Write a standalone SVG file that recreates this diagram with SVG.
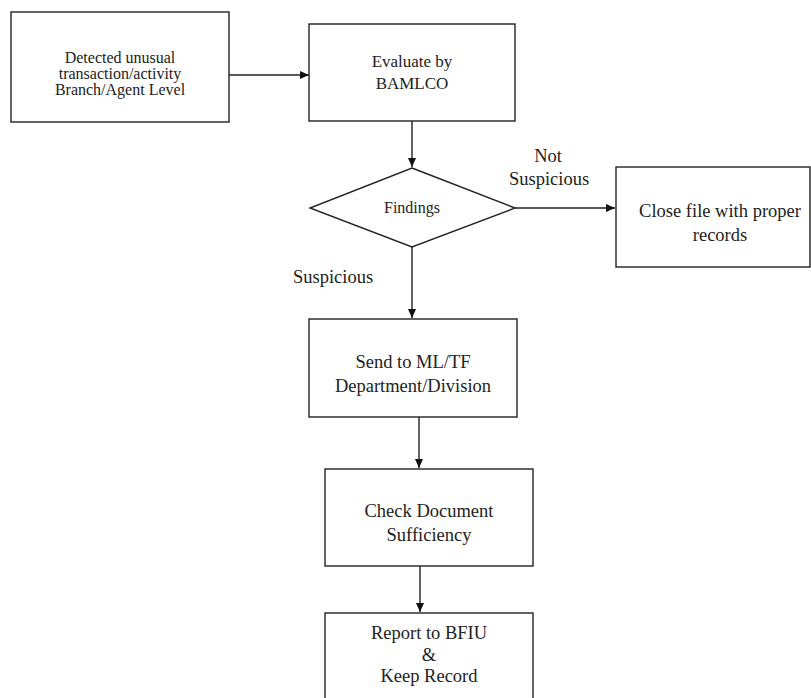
<svg xmlns="http://www.w3.org/2000/svg" width="811" height="698" viewBox="0 0 811 698">
<defs>
<marker id="ah" markerWidth="10" markerHeight="10" refX="9" refY="5" orient="auto" markerUnits="userSpaceOnUse">
<path d="M0,1 L9,5 L0,9 Z" fill="#111"/>
</marker>
<style>
.box{fill:#fff;stroke:#222;stroke-width:1.4}
.t{font-family:"Liberation Serif","Times New Roman",serif;fill:#222;text-anchor:middle}
.s16{font-size:16px}
.s17{font-size:17px}
.s18{font-size:18.5px}
.c{stroke:#222;stroke-width:1.4;fill:none;marker-end:url(#ah)}
</style>
</defs>
<rect width="811" height="698" fill="#fff"/>
<g id="connectors">
<line class="c" x1="229" y1="75" x2="309" y2="75"/>
<line class="c" x1="412" y1="121" x2="412" y2="167"/>
<line class="c" x1="515" y1="208" x2="615" y2="208"/>
<line class="c" x1="412" y1="247" x2="412" y2="318"/>
<line class="c" x1="419" y1="417" x2="419" y2="468"/>
<line class="c" x1="420" y1="566" x2="420" y2="612"/>
<text class="t s18" x="548" y="162">Not</text>
<text class="t s18" x="549" y="185">Suspicious</text>
<text class="t s18" x="333" y="283">Suspicious</text>
</g>
<g id="detected">
<rect class="box" x="11" y="12" width="218" height="110"/>
<text class="t s16" x="120" y="63">Detected unusual</text>
<text class="t s16" x="120" y="79">transaction/activity</text>
<text class="t s16" x="120" y="95">Branch/Agent Level</text>
</g>
<g id="evaluate">
<rect class="box" x="309" y="24" width="206" height="97"/>
<text class="t s17" x="412" y="67">Evaluate by</text>
<text class="t s17" x="412" y="89">BAMLCO</text>
</g>
<g id="findings">
<polygon class="box" points="412,168 515,208 412,247 310,208"/>
<text class="t s16" x="412" y="213">Findings</text>
</g>
<g id="close">
<rect class="box" x="616" y="167" width="194" height="100"/>
<text class="t s18" x="720" y="217">Close file with proper</text>
<text class="t s18" x="720" y="241">records</text>
</g>
<g id="send">
<rect class="box" x="309" y="319" width="208" height="98"/>
<text class="t s18" x="413" y="368">Send to ML/TF</text>
<text class="t s18" x="413" y="392">Department/Division</text>
</g>
<g id="check">
<rect class="box" x="325" y="469" width="208" height="97"/>
<text class="t s18" x="429" y="517">Check Document</text>
<text class="t s18" x="429" y="541">Sufficiency</text>
</g>
<g id="report">
<rect class="box" x="325" y="613" width="208" height="95"/>
<text class="t s18" x="429" y="639">Report to BFIU</text>
<text class="t s18" x="429" y="661">&amp;</text>
<text class="t s18" x="429" y="682">Keep Record</text>
</g>
</svg>
